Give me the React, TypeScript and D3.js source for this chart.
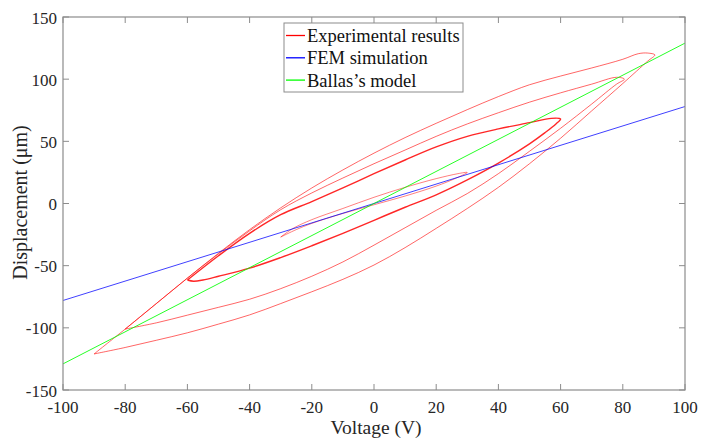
import React from "react";
import * as d3 from "d3";

const xTicks = [-100, -80, -60, -40, -20, 0, 20, 40, 60, 80, 100];
const yTicks = [-150, -100, -50, 0, 50, 100, 150];

// Experimental hysteresis loops: [voltage (V), displacement (um)]
const loop30: [number, number][] = [
  [-30, -27], [-25, -21], [-20, -16], [-10, -8], [0, -1], [10, 6], [20, 14], [26, 20], [30, 25],
  [27, 24], [20, 20], [10, 13], [0, 5], [-10, -4], [-20, -13], [-26, -20], [-30, -27],
];
const loop60: [number, number][] = [
  [-60, -61.5], [-58, -62.5], [-55, -61.5], [-50, -58.5], [-40, -52], [-30, -43.5], [-20, -34], [-10, -24], [0, -13.5], [10, -3], [20, 7], [30, 19], [40, 32.5], [50, 48], [55, 57], [58.5, 64], [60, 68],
  [57, 68.5], [50, 65], [40, 60], [30, 54], [20, 45.5], [10, 35], [0, 24], [-10, 12.5], [-20, 1.5], [-30, -9], [-40, -24], [-50, -42], [-60, -61.5],
];
const loop80: [number, number][] = [
  [-80, -101], [-70, -96], [-60, -89.8], [-50, -83.5], [-40, -77], [-30, -68.5], [-20, -58.5], [-10, -47], [0, -33.5], [10, -19.5], [20, -5.5], [30, 8], [40, 24], [50, 42], [60, 60.5], [70, 80], [78, 96], [80.5, 100],
  [78, 101.5], [70, 96], [60, 89], [50, 81.5], [40, 73], [30, 64], [20, 54], [10, 43], [0, 32], [-10, 20.5], [-20, 8.5], [-30, -5], [-40, -22], [-50, -40.5], [-60, -60], [-70, -80.5], [-80, -101],
];
const loop90: [number, number][] = [
  [-90, -121], [-80, -115.8], [-70, -110], [-60, -104], [-50, -97], [-40, -89.6], [-30, -80.5], [-20, -71], [-10, -61], [0, -49.5], [10, -35.5], [20, -20], [30, -4], [40, 13], [50, 32], [60, 52.5], [70, 74.5], [80, 96.5], [88, 114.5], [90.3, 119.5],
  [88, 121], [85, 120.5], [80, 116], [70, 109], [60, 102.5], [50, 95.5], [40, 86], [30, 75.5], [20, 64.5], [10, 53], [0, 40.5], [-10, 27], [-20, 12.5], [-30, -3.5], [-40, -21], [-50, -40], [-60, -60], [-70, -80.5], [-80, -101], [-85, -111], [-90, -121],
];

const femV = [-100, 100];
const femD = [-78, 78];
const ballasV = [-100, 100];
const ballasD = [-129, 129];

const legendLabels = ["Experimental results", "FEM simulation", "Ballas\u2019s model"];
const legendColors = ["#ff0000", "#0000ff", "#00ff00"];

export default function App() {
  const W = 701, H = 440;
  const x = d3.scaleLinear().domain([-100, 100]).range([63, 685]);
  const y = d3.scaleLinear().domain([-150, 150]).range([390, 17]);
  const loopLine = d3
    .line<[number, number]>()
    .x((d) => x(d[0]))
    .y((d) => y(d[1]))
    .curve(d3.curveCatmullRom.alpha(0.5));
  const seg = (vs: number[], ds: number[]) =>
    d3.line<number>().x((d) => x(d)).y((_, i) => y(ds[i]))(vs) || "";

  const font = '"Liberation Serif", "Times New Roman", Times, serif';
  const axisColor = "#8c8c8c";
  const textColor = "#262626";
  const [x0, x1] = x.range();
  const [y0, y1] = y.range();
  const ts = { fontFamily: font };

  return (
    <svg width={W} height={H} style={{ position: "absolute", left: 0, top: 0, background: "#fff", fontFamily: font }}>
      <rect x={0} y={0} width={W} height={H} fill="#fff" />
      <g fill="none">
        <path d={loopLine(loop90) || ""} stroke="#ff0000" strokeOpacity={0.6} strokeWidth={1} />
        <path d={loopLine(loop80) || ""} stroke="#ff0000" strokeOpacity={0.6} strokeWidth={1} />
        <path d={loopLine(loop60) || ""} stroke="#ff0000" strokeOpacity={0.85} strokeWidth={1.4} />
        <path d={loopLine(loop30) || ""} stroke="#ff0000" strokeOpacity={0.5} strokeWidth={1} />
        <path d={seg(femV, femD)} stroke="#0000ff" strokeOpacity={0.75} strokeWidth={1} />
        <path d={seg(ballasV, ballasD)} stroke="#00ff00" strokeOpacity={0.85} strokeWidth={1} />
      </g>
      <rect x={x0} y={y1} width={x1 - x0} height={y0 - y1} fill="none" stroke={axisColor} strokeWidth={1.2} />
      {xTicks.map((t) => (
        <g key={"x" + t}>
          <line x1={x(t)} x2={x(t)} y1={y0} y2={y0 - 6} stroke={axisColor} />
          <line x1={x(t)} x2={x(t)} y1={y1} y2={y1 + 6} stroke={axisColor} />
          <text x={x(t)} y={y0 + 23} textAnchor="middle" fontSize={17} fill={textColor} style={ts}>
            {String(t)}
          </text>
        </g>
      ))}
      {yTicks.map((t) => (
        <g key={"y" + t}>
          <line x1={x0} x2={x0 + 6} y1={y(t)} y2={y(t)} stroke={axisColor} />
          <line x1={x1} x2={x1 - 6} y1={y(t)} y2={y(t)} stroke={axisColor} />
          <text x={x0 - 6} y={y(t) + 6.5} textAnchor="end" fontSize={17} fill={textColor} style={ts}>
            {String(t)}
          </text>
        </g>
      ))}
      <text x={376} y={434} textAnchor="middle" fontSize={19.5} fill={textColor} style={ts}>
        Voltage (V)
      </text>
      <text transform={`translate(26.5,202.5) rotate(-90)`} textAnchor="middle" fontSize={20} fill={textColor} style={ts}>
        Displacement (μm)
      </text>
      <g>
        <rect x={284} y={23} width={179} height={69} fill="#fff" stroke={axisColor} strokeWidth={1} />
        {legendLabels.map((l, i) => (
          <g key={l}>
            <line x1={286} x2={305} y1={35.5 + i * 22.3} y2={35.5 + i * 22.3} stroke={legendColors[i]} strokeWidth={1.3} />
            <text x={307} y={42 + i * 22.3} fontSize={18.5} fill="#111" style={ts}>
              {l}
            </text>
          </g>
        ))}
      </g>
    </svg>
  );
}
